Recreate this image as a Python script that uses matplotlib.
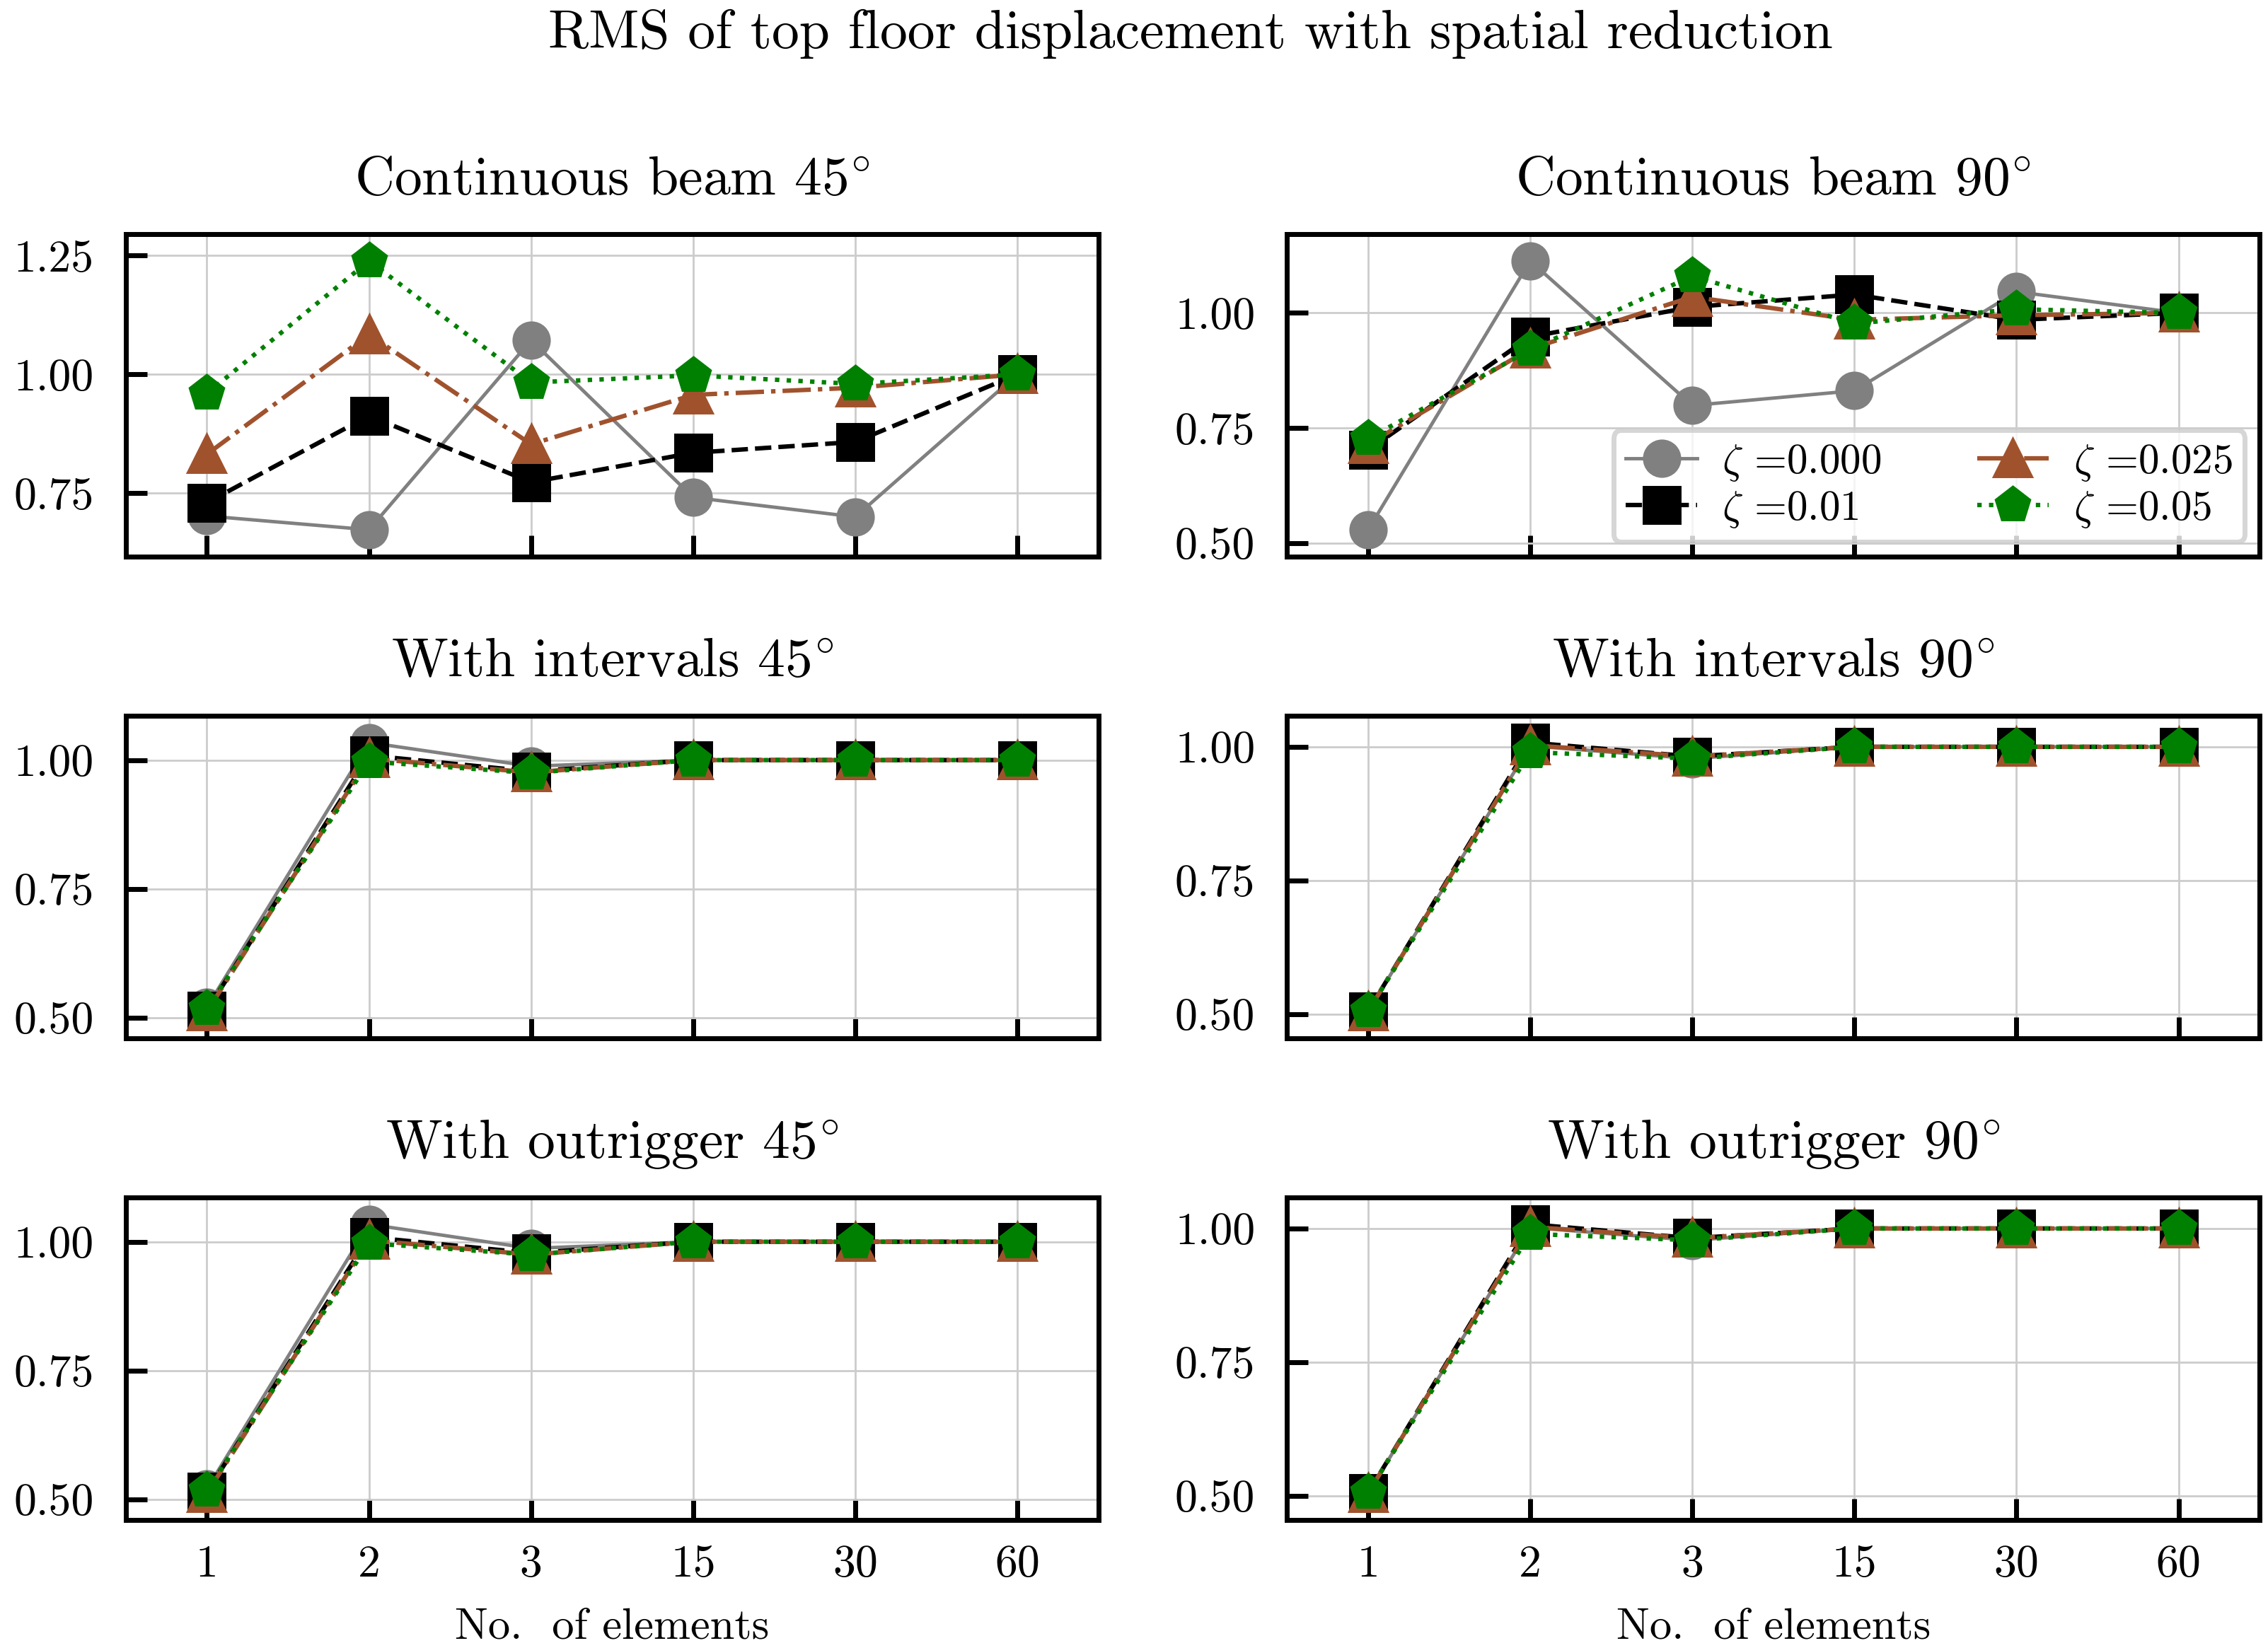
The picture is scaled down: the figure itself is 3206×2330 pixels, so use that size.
import matplotlib.pyplot as plt
import numpy as np
from matplotlib.ticker import MultipleLocator, FormatStrFormatter

plt.rcParams['font.family'] = 'serif'
plt.rcParams['font.serif'] = ['cmr10', 'DejaVu Serif']
plt.rcParams['mathtext.fontset'] = 'cm'
plt.rcParams['axes.formatter.use_mathtext'] = True
plt.rcParams['axes.unicode_minus'] = False

# x categories (number of elements)
elements = ['1', '2', '3', '15', '30', '60']
zeta_labels = ['0.000', '0.01', '0.025', '0.05']

titles = ['Continuous beam 45$^{\\circ}$', 'Continuous beam 90$^{\\circ}$',
          'With intervals 45$^{\\circ}$', 'With intervals 90$^{\\circ}$',
          'With outrigger 45$^{\\circ}$', 'With outrigger 90$^{\\circ}$']

# rows: zeta = 0.000, 0.01, 0.025, 0.05
cont_45 = [[0.702, 0.673, 1.072, 0.741, 0.700, 1.000],
           [0.730, 0.913, 0.773, 0.835, 0.858, 1.000],
           [0.832, 1.084, 0.853, 0.957, 0.972, 1.000],
           [0.960, 1.239, 0.983, 0.998, 0.980, 1.000]]

cont_90 = [[0.529, 1.113, 0.799, 0.831, 1.046, 1.000],
           [0.702, 0.948, 1.013, 1.040, 0.985, 1.000],
           [0.715, 0.922, 1.035, 0.985, 0.995, 1.000],
           [0.727, 0.920, 1.080, 0.977, 1.008, 1.000]]

int_45 = [[0.520, 1.034, 0.988, 1.000, 1.000, 1.000],
          [0.514, 1.009, 0.978, 1.000, 1.000, 1.000],
          [0.512, 1.003, 0.976, 1.000, 1.000, 1.000],
          [0.517, 0.997, 0.975, 1.000, 1.000, 1.000]]

int_90 = [[0.505, 1.002, 0.978, 1.000, 1.000, 1.000],
          [0.505, 1.008, 0.982, 1.000, 1.000, 1.000],
          [0.505, 1.003, 0.982, 1.000, 1.000, 1.000],
          [0.506, 0.990, 0.978, 1.000, 1.000, 1.000]]

out_45 = [[0.520, 1.034, 0.987, 1.000, 1.000, 1.000],
          [0.514, 1.009, 0.978, 1.000, 1.000, 1.000],
          [0.512, 1.003, 0.975, 1.000, 1.000, 1.000],
          [0.517, 0.997, 0.975, 1.000, 1.000, 1.000]]

out_90 = [[0.505, 1.002, 0.978, 1.000, 1.000, 1.000],
          [0.505, 1.008, 0.982, 1.000, 1.000, 1.000],
          [0.505, 1.003, 0.982, 1.000, 1.000, 1.000],
          [0.506, 0.990, 0.978, 1.000, 1.000, 1.000]]


def style_axis(ax, show_xlabels):
    ax.set_xticks(np.arange(len(elements)))
    ax.set_xticklabels(elements)
    ax.yaxis.set_major_locator(MultipleLocator(0.25))
    ax.yaxis.set_major_formatter(FormatStrFormatter('%.2f'))
    ax.tick_params(direction='in', length=4.3, width=1.0, top=False, right=False, labelsize=9.2)
    ax.tick_params(axis='y', pad=6.5)
    ax.tick_params(axis='x', pad=5)
    for s in ax.spines.values():
        s.set_linewidth(1.0)
    ax.grid(True, color='#cccccc', linewidth=0.4)
    ax.set_axisbelow(True)
    ax.margins(0.1)
    if not show_xlabels:
        ax.tick_params(labelbottom=False)
    else:
        ax.set_xlabel('No.  of elements', fontsize=9, labelpad=4.5)


def main():
    colors = ['gray', 'black', 'sienna', 'green']
    markers = ['o', 's', '^', 'p']
    styles = ['-', '--', '-.', ':']
    widths = [0.7, 0.9, 0.9, 0.9]

    fig, axes = plt.subplots(3, 2, figsize=(6.412, 4.66), dpi=500)
    fig.subplots_adjust(left=0.0555, right=0.9963, top=0.858, bottom=0.0777, wspace=0.194, hspace=0.493)

    panels = [cont_45, cont_90, int_45, int_90, out_45, out_90]
    x = np.arange(len(elements))
    for i, ax in enumerate(axes.flat):
        for k in range(len(zeta_labels)):
            ax.plot(x, panels[i][k], linestyle=styles[k], color=colors[k], marker=markers[k],
                    markersize=6.8, linewidth=widths[k], label='$\\zeta$ =' + zeta_labels[k])
        ax.set_title(titles[i], fontsize=11.2, pad=8)
        style_axis(ax, i >= 4)

    axes[0, 1].legend(loc='lower right', ncol=2, fontsize=8.5, handlelength=1.7, handletextpad=0.6,
                      columnspacing=2.3, borderpad=0.3, labelspacing=0.15, borderaxespad=0.35)

    fig.text(0.525, 1 - 68 / 2330, 'RMS of top floor displacement with spatial reduction',
             ha='center', va='baseline', fontsize=11.2)

    fig.savefig('out.png', dpi=500)


if __name__ == '__main__':
    main()
